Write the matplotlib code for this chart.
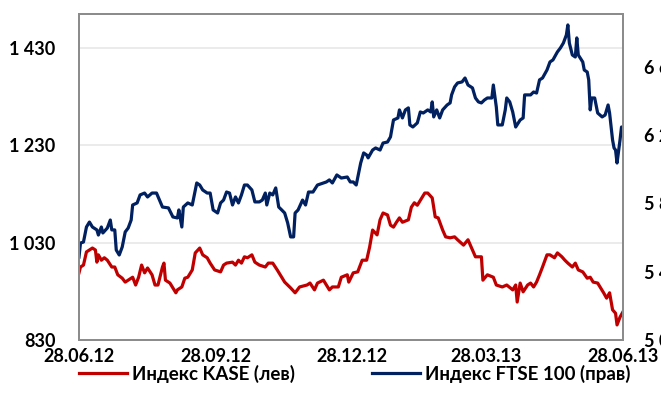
import matplotlib
matplotlib.use("Agg")
import matplotlib.pyplot as plt
import numpy as np
import pandas as pd

# ---- data (days since 28.06.2012, index values) ----
kase_days = [0, 1, 3, 5, 7, 9, 11, 12, 13, 15, 17, 19, 22, 24, 26, 29, 31, 33, 36, 38, 40, 42, 44, 46, 49, 51, 53,
             56, 57, 58, 61, 63, 65, 66, 69, 71, 73, 76, 78, 81, 83, 86, 88, 91, 95, 97, 99, 103, 105, 107, 109,
             111, 113, 116, 118, 121, 125, 127, 130, 133, 136, 138, 142, 145, 148, 153, 155, 158, 160, 164, 166,
             168, 170, 174, 176, 180, 181, 184, 187, 190, 193, 195, 197, 200, 202, 204, 207, 209, 211, 213, 215,
             217, 221, 223, 225, 227, 230, 232, 234, 237, 239, 241, 244, 246, 249, 252, 254, 258, 261, 264, 266,
             270, 271, 274, 278, 280, 284, 287, 291, 293, 294, 296, 298, 301, 303, 305, 307, 309, 311, 314, 316,
             319, 321, 324, 326, 328, 331, 333, 335, 338, 341, 343, 345, 348, 350, 352, 354, 356, 358, 360, 361,
             363, 365]
kase_vals = [968, 980, 984, 1011, 1015, 1019, 1015, 990, 1005, 994, 999, 994, 980, 980, 964, 957, 949, 953, 959,
             943, 959, 984, 968, 978, 964, 943, 943, 980, 988, 953, 947, 937, 927, 933, 939, 957, 959, 974, 1009,
             1019, 1005, 999, 988, 974, 970, 984, 988, 990, 984, 994, 988, 1001, 999, 1005, 990, 984, 980, 988,
             988, 974, 959, 949, 937, 927, 939, 943, 947, 933, 947, 953, 943, 933, 939, 939, 959, 964, 949, 968,
             970, 994, 994, 1021, 1056, 1046, 1077, 1091, 1087, 1066, 1062, 1072, 1081, 1072, 1077, 1103, 1112,
             1107, 1122, 1132, 1132, 1122, 1083, 1081, 1056, 1042, 1040, 1042, 1036, 1025, 1036, 1015, 1001, 1001,
             953, 964, 959, 943, 939, 943, 933, 943, 908, 947, 929, 943, 947, 939, 949, 964, 980, 1005, 1005, 999,
             1009, 1001, 994, 988, 980, 988, 974, 970, 957, 959, 949, 947, 937, 927, 916, 927, 892, 885, 861, 877,
             888]

ftse_days = [0, 1, 3, 5, 7, 9, 12, 13, 15, 16, 19, 21, 22, 24, 25, 27, 29, 31, 33, 35, 36, 39, 41, 44, 46, 49, 52,
             54, 56, 60, 63, 66, 67, 69, 70, 73, 76, 79, 81, 83, 86, 88, 90, 93, 95, 97, 99, 101, 103, 105, 107,
             109, 111, 113, 116, 118, 121, 123, 125, 126, 128, 130, 132, 134, 136, 138, 140, 142, 144, 145, 147,
             150, 152, 154, 157, 160, 164, 166, 168, 170, 173, 176, 180, 182, 184, 186, 189, 191, 193, 194, 197,
             199, 202, 204, 207, 209, 211, 214, 215, 217, 219, 221, 222, 224, 227, 229, 231, 234, 236, 237, 238,
             240, 242, 244, 247, 249, 250, 252, 254, 257, 259, 261, 264, 266, 268, 270, 272, 274, 277, 278, 280,
             281, 284, 286, 287, 289, 291, 293, 296, 298, 299, 303, 305, 307, 309, 311, 314, 316, 318, 321, 323,
             325, 327, 328, 329, 331, 333, 334, 335, 338, 339, 341, 342, 343, 344, 346, 348, 351, 353, 355, 356,
             358, 359, 360, 361, 363, 364, 365]
ftse_vals = [5486, 5568, 5574, 5662, 5691, 5662, 5645, 5615, 5662, 5627, 5656, 5703, 5645, 5645, 5527, 5498, 5545,
             5633, 5656, 5703, 5791, 5803, 5850, 5861, 5838, 5861, 5861, 5820, 5779, 5774, 5721, 5715, 5762, 5662,
             5779, 5803, 5791, 5920, 5908, 5879, 5861, 5861, 5762, 5744, 5803, 5820, 5867, 5861, 5791, 5838, 5803,
             5850, 5908, 5908, 5879, 5809, 5809, 5820, 5861, 5791, 5861, 5850, 5891, 5779, 5762, 5744, 5686, 5604,
             5604, 5744, 5762, 5820, 5791, 5867, 5867, 5908, 5920, 5926, 5938, 5920, 5967, 5949, 5955, 5926, 5926,
             5908, 6037, 6096, 6084, 6067, 6113, 6125, 6113, 6154, 6160, 6190, 6289, 6301, 6348, 6301, 6348, 6360,
             6260, 6248, 6272, 6336, 6330, 6348, 6336, 6395, 6307, 6348, 6301, 6348, 6377, 6389, 6436, 6483, 6506,
             6512, 6535, 6494, 6477, 6418, 6395, 6389, 6406, 6418, 6418, 6494, 6365, 6260, 6260, 6348, 6418, 6395,
             6336, 6248, 6289, 6301, 6436, 6436, 6453, 6447, 6524, 6535, 6582, 6629, 6641, 6688, 6711, 6740, 6787,
             6846, 6740, 6670, 6658, 6770, 6670, 6629, 6582, 6570, 6524, 6348, 6418, 6418, 6330, 6307, 6318, 6377,
             6330, 6172, 6125, 6113, 6037, 6172, 6248, 6219]

tick_dates = ["2012-06-28", "2012-09-28", "2012-12-28", "2013-03-28", "2013-06-28"]
tick_labels = ["28.06.12", "28.09.12", "28.12.12", "28.03.13", "28.06.13"]
left_ticks = [830, 1030, 1230, 1430]
left_labels = ["830", "1 030", "1 230", "1 430"]
right_ticks = [5000, 5400, 5800, 6200, 6600]
right_labels = ["5 000", "5 400", "5 800", "6 200", "6 600"]
series_names = ["Индекс KASE (лев)", "Индекс FTSE 100 (прав)"]

# ---- styling ----
FONT = ["Lato", "Noto Sans", "DejaVu Sans"]
plt.rcParams["font.family"] = FONT
plt.rcParams["font.weight"] = "bold"
FS = 13
LFS = 13.5
RED = "#C00000"
NAVY = "#002060"
SPINE = "#8c8c8c"

start = pd.Timestamp("2012-06-28")
kase_x = start + pd.to_timedelta(kase_days, unit="D")
ftse_x = start + pd.to_timedelta(ftse_days, unit="D")

fig = plt.figure(figsize=(6.61, 4.09), dpi=100)
ax = fig.add_axes([79 / 661, 69 / 409, 544 / 661, 326 / 409])
ax2 = ax.twinx()

l1, = ax.plot(kase_x, kase_vals, color=RED, lw=2.3, solid_joinstyle="round", label=series_names[0])
l2, = ax2.plot(ftse_x, ftse_vals, color=NAVY, lw=2.3, solid_joinstyle="round", label=series_names[1])

ax.set_xlim(pd.Timestamp(tick_dates[0]), pd.Timestamp(tick_dates[-1]))
ax.set_ylim(830, 1500)
ax2.set_ylim(5000, 6910)

ax.set_xticks([pd.Timestamp(d) for d in tick_dates])
ax.set_xticklabels(tick_labels, fontsize=FS, fontweight="bold")
ax.set_yticks(left_ticks)
ax.set_yticklabels(left_labels, fontsize=FS, fontweight="bold")
ax2.set_yticks(right_ticks)
ax2.set_yticklabels(right_labels, fontsize=FS, fontweight="bold")

ax.tick_params(axis="both", length=0)
ax.tick_params(axis="y", pad=17)
ax.tick_params(axis="x", pad=6)
ax2.tick_params(axis="y", length=0, pad=15)

ax.grid(axis="y", color="#e8e8e8", lw=1.2)
ax.set_axisbelow(True)
for a in (ax, ax2):
    for s in a.spines.values():
        s.set_color(SPINE)
        s.set_linewidth(1.4)

fig.legend([l1, l2], series_names, loc="center", bbox_to_anchor=(0.537, 0.086), ncol=2,
           frameon=False, prop={"size": LFS, "weight": "bold"}, handlelength=2.56,
           handletextpad=0.27, columnspacing=4.1)

fig.savefig("out.png", dpi=100)
